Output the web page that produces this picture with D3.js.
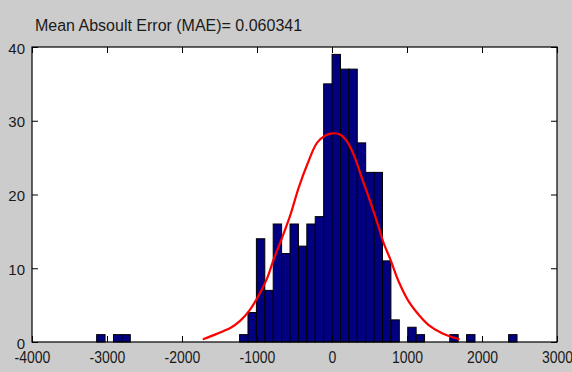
<!DOCTYPE html>
<html>
<head>
<meta charset="utf-8">
<script src="https://cdn.jsdelivr.net/npm/d3@7"></script>
<style>
  html, body { margin: 0; padding: 0; background: #cccccc; }
  svg { display: block; }
  text { font-family: "Liberation Sans", Arial, sans-serif; fill: #1a1a1a; }
</style>
</head>
<body>
<svg id="chart" width="572" height="372"></svg>
<script>
// ---- data ----
const titleText = "Mean Absoult Error (MAE)= 0.060341";
const binStart = -3138;
const binWidth = 112.1;
const binCounts = [
  1, 0, 1, 1, 0, 0, 0, 0, 0, 0,
  0, 0, 0, 0, 0, 0, 0, 1, 4, 14,
  7, 16, 12, 16, 13, 16, 17, 35, 39, 37,
  37, 27, 23, 23, 11, 3, 0, 2, 1, 0,
  0, 0, 1, 0, 1, 0, 0, 0, 0, 1
];
const fitX = [-1710, -1560, -1445, -1356, -1222, -1100, -1000, -867, -778, -667, -556, -445, -333, -200, -89, 0, 111, 200, 289, 400, 511, 622, 689, 778, 889, 1022, 1156, 1289, 1467, 1689];
const fitY = [0.4, 1.0, 1.5, 1.9, 2.9, 4.3, 5.9, 8.6, 11.2, 14.1, 17.2, 20.9, 24.0, 27.0, 28.0, 28.3, 28.1, 27.2, 25.4, 22.2, 19.0, 15.6, 13.4, 11.2, 8.2, 5.5, 3.7, 2.3, 1.2, 0.4];
const xTicks = [-4000, -3000, -2000, -1000, 0, 1000, 2000, 3000];
const yTicks = [0, 10, 20, 30, 40];

// ---- layout ----
const svg = d3.select("#chart");
const L = 32, R = 557, T = 47, B = 342;
const x = d3.scaleLinear().domain([-4000, 3000]).range([L, R]);
const y = d3.scaleLinear().domain([0, 40]).range([B, T]);

svg.append("rect").attr("width", 572).attr("height", 372).attr("fill", "#cccccc");
svg.append("rect").attr("x", L).attr("y", T).attr("width", R - L).attr("height", B - T).attr("fill", "#ffffff");

// bars
const bins = binCounts.map((c, i) => ({ x0: binStart + i * binWidth, x1: binStart + (i + 1) * binWidth, c }));
svg.append("g").selectAll("rect").data(bins.filter(d => d.c > 0)).join("rect")
  .attr("x", d => x(d.x0))
  .attr("y", d => y(d.c))
  .attr("width", d => x(d.x1) - x(d.x0))
  .attr("height", d => y(0) - y(d.c))
  .attr("fill", "#000080")
  .attr("stroke", "#000000")
  .attr("stroke-width", 1);

// fit curve
const fit = fitX.map((v, i) => [v, fitY[i]]);
svg.append("path").datum(fit)
  .attr("fill", "none").attr("stroke", "#ff0000").attr("stroke-width", 2.2)
  .attr("stroke-linejoin", "round").attr("stroke-linecap", "round")
  .attr("d", d3.line().x(d => x(d[0])).y(d => y(d[1])).curve(d3.curveCatmullRom));

// axes (ticks inward)
const tl = 6;
const gxB = svg.append("g").attr("transform", `translate(0,${B})`)
  .call(d3.axisBottom(x).tickValues(xTicks).tickSize(-tl).tickPadding(0).tickFormat(d3.format("d")));
const gxT = svg.append("g").attr("transform", `translate(0,${T})`)
  .call(d3.axisTop(x).tickValues(xTicks).tickSize(-tl).tickFormat(""));
const gyL = svg.append("g").attr("transform", `translate(${L},0)`)
  .call(d3.axisLeft(y).tickValues(yTicks).tickSize(-tl).tickPadding(7).tickFormat(d3.format("d")));
const gyR = svg.append("g").attr("transform", `translate(${R},0)`)
  .call(d3.axisRight(y).tickValues(yTicks).tickSize(-tl).tickFormat(""));
[gxB, gxT, gyL, gyR].forEach(g => {
  g.select(".domain").remove();
  g.selectAll("line").attr("stroke", "#000").attr("stroke-width", 1);
  g.selectAll("text").style("font-family", "'Liberation Sans', Arial, sans-serif")
    .style("font-size", "15px").attr("fill", "#1a1a1a");
});
// bottom labels: slightly condensed / tall glyphs as in the reference
gxB.selectAll("text")
  .text(d => String(d).replace("\u2212", "-"))
  .attr("y", 0).attr("dy", 0)
  .style("font-size", "14px")
  .attr("transform", "translate(0,21) scale(1,1.22)");
gyL.selectAll("text").attr("dy", "0.4em");

// box
svg.append("rect").attr("x", L).attr("y", T).attr("width", R - L).attr("height", B - T)
  .attr("fill", "none").attr("stroke", "#000").attr("stroke-width", 1.2);

// title
svg.append("text").attr("x", 35).attr("y", 31).style("font-size", "16px")
  .attr("transform", "translate(0,31) scale(1,1.08) translate(0,-31)")
  .text(titleText);
</script>
</body>
</html>
